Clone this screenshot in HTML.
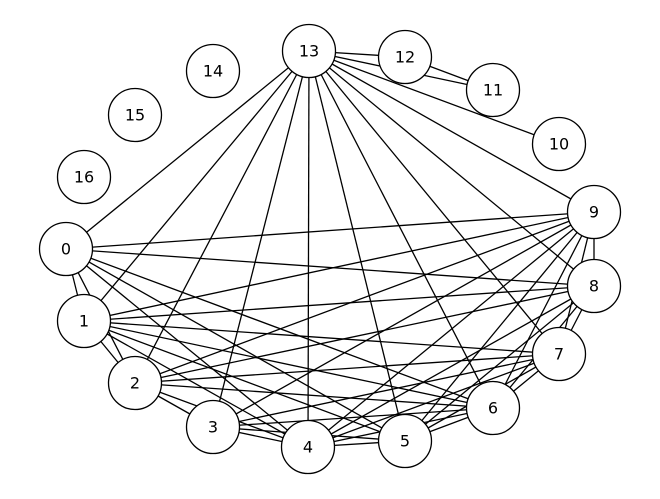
<!DOCTYPE html>
<html><head><meta charset="utf-8"><style>html,body{margin:0;padding:0;background:#fff}svg{display:block}</style></head><body>
<svg width="660" height="499" viewBox="0 0 660 499" xmlns="http://www.w3.org/2000/svg">
<g stroke="#000" stroke-width="1.3">
<line x1="309" y1="51" x2="405" y2="57"/><line x1="309" y1="51" x2="493" y2="90"/><line x1="405" y1="57" x2="493" y2="90"/>
<line x1="309" y1="51" x2="559" y2="144"/><line x1="309" y1="51" x2="594" y2="212"/><line x1="309" y1="51" x2="594" y2="286"/>
<line x1="309" y1="51" x2="559" y2="354"/><line x1="309" y1="51" x2="493" y2="408"/><line x1="309" y1="51" x2="405" y2="441"/>
<line x1="309" y1="51" x2="308" y2="447"/><line x1="309" y1="51" x2="213" y2="427"/><line x1="309" y1="51" x2="135" y2="383"/>
<line x1="309" y1="51" x2="84" y2="321"/><line x1="309" y1="51" x2="66" y2="249"/>
<line x1="66" y1="249" x2="594" y2="212"/><line x1="66" y1="249" x2="594" y2="286"/><line x1="66" y1="249" x2="84" y2="321"/>
<line x1="66" y1="249" x2="135" y2="383"/><line x1="66" y1="249" x2="308" y2="447"/><line x1="66" y1="249" x2="405" y2="441"/><line x1="66" y1="249" x2="493" y2="408"/>
<line x1="84" y1="321" x2="594" y2="212"/><line x1="84" y1="321" x2="594" y2="286"/><line x1="84" y1="321" x2="559" y2="354"/>
<line x1="84" y1="321" x2="493" y2="408"/><line x1="84" y1="321" x2="405" y2="441"/><line x1="84" y1="321" x2="308" y2="447"/><line x1="84" y1="321" x2="135" y2="383"/>
<line x1="135" y1="383" x2="594" y2="212"/><line x1="135" y1="383" x2="594" y2="286"/><line x1="135" y1="383" x2="559" y2="354"/>
<line x1="135" y1="383" x2="493" y2="408"/><line x1="135" y1="383" x2="213" y2="427"/><line x1="135" y1="383" x2="308" y2="447"/>
<line x1="213" y1="427" x2="594" y2="212"/><line x1="213" y1="427" x2="559" y2="354"/><line x1="213" y1="427" x2="493" y2="408"/>
<line x1="213" y1="427" x2="405" y2="441"/><line x1="213" y1="427" x2="308" y2="447"/>
<line x1="308" y1="447" x2="594" y2="212"/><line x1="308" y1="447" x2="594" y2="286"/><line x1="308" y1="447" x2="559" y2="354"/>
<line x1="308" y1="447" x2="493" y2="408"/><line x1="308" y1="447" x2="405" y2="441"/>
<line x1="405" y1="441" x2="594" y2="212"/><line x1="405" y1="441" x2="594" y2="286"/><line x1="405" y1="441" x2="559" y2="354"/><line x1="405" y1="441" x2="493" y2="408"/>
<line x1="493" y1="408" x2="594" y2="212"/><line x1="493" y1="408" x2="594" y2="286"/><line x1="493" y1="408" x2="559" y2="354"/>
<line x1="559" y1="354" x2="594" y2="212"/><line x1="559" y1="354" x2="594" y2="286"/><line x1="594" y1="286" x2="594" y2="212"/>
</g>
<g fill="#fff" stroke="#000" stroke-width="1.3">
<circle cx="66" cy="249" r="26.5"/><circle cx="84" cy="321" r="26.5"/><circle cx="135" cy="383" r="26.5"/><circle cx="213" cy="427" r="26.5"/>
<circle cx="308" cy="447" r="26.5"/><circle cx="405" cy="441" r="26.5"/><circle cx="493" cy="408" r="26.5"/><circle cx="559" cy="354" r="26.5"/>
<circle cx="594" cy="286" r="26.5"/><circle cx="594" cy="212" r="26.5"/><circle cx="559" cy="144" r="26.5"/><circle cx="493" cy="90" r="26.5"/>
<circle cx="405" cy="57" r="26.5"/><circle cx="309" cy="51" r="26.5"/><circle cx="213" cy="71" r="26.5"/><circle cx="135" cy="115" r="26.5"/><circle cx="84" cy="177" r="26.5"/>
</g>
<g font-family="DejaVu Sans, Liberation Sans, sans-serif" font-size="16" text-anchor="middle" dominant-baseline="central" fill="#000">
<text x="66" y="249">0</text><text x="84" y="321">1</text><text x="135" y="383">2</text><text x="213" y="427">3</text>
<text x="308" y="447">4</text><text x="405" y="441">5</text><text x="493" y="408">6</text><text x="559" y="354">7</text>
<text x="594" y="286">8</text><text x="594" y="212">9</text><text x="559" y="144">10</text><text x="493" y="90">11</text>
<text x="405" y="57">12</text><text x="309" y="51">13</text><text x="213" y="71">14</text><text x="135" y="115">15</text><text x="84" y="177">16</text>
</g>
</svg>
</body></html>
